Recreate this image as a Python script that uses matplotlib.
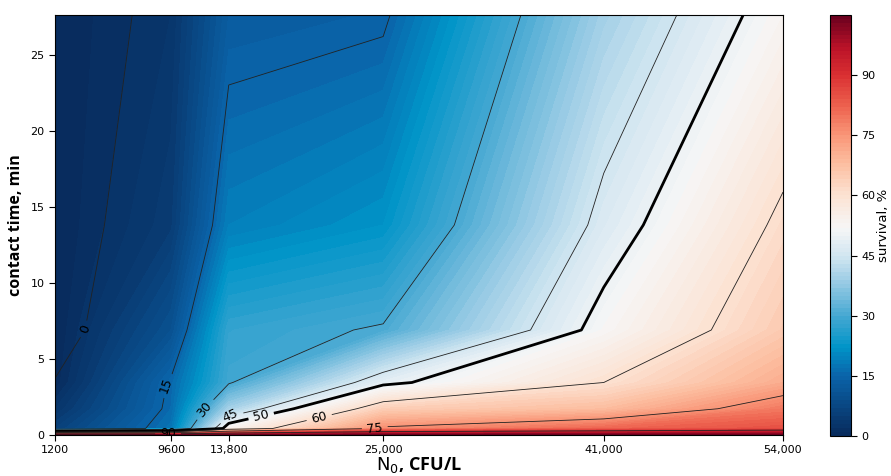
import numpy as np
import matplotlib.pyplot as plt
from matplotlib.colors import LinearSegmentedColormap

# grid: N0 columns and contact-time rows
n0 = [1200, 9600, 13800, 25000, 41000, 54000]
n0_labels = ["1200", "9600", "13,800", "25,000", "41,000", "54,000"]
contact_time = [0, 0.43, 1.725, 3.45, 6.9, 13.8, 27.6]

# survival, % (one list per contact time, one value per N0)
surv_t0 = [105, 105, 105, 105, 105, 105]
surv_t1 = [6, 17.5, 53.6, 76, 81.6, 85]
surv_t2 = [3, 16, 39.7, 64.2, 68, 79]
surv_t3 = [0.3, 15.5, 29.5, 48.5, 60, 71]
surv_t4 = [-3.5, 10, 27.9, 30.5, 52.2, 65.2]
surv_t5 = [-3.5, 4.7, 19, 22, 46.8, 61.3]
surv_t6 = [-6, 3, 13, 14.2, 39.5, 53]

cbar_ticks = [0, 15, 30, 45, 60, 75, 90]

# contour level -> where its inline label sits (data coords)
label_spots = {0: (3600, 6.9), 15: (9900, 3.15), 30: (11900, 1.8), 45: (14000, 1.05),
               50: (16200, 1.05), 60: (20400, 1.0), 75: (24400, 0.46), 90: (9400, 0.13)}

# colour stops sampled from the reference colour bar (a punchier RdBu_r)
stop_vals = [0, 15, 22, 30, 38, 45, 52, 60, 68, 75, 82, 90, 97, 105]
stop_rgb = [(8, 42, 92), (10, 100, 170), (0, 148, 200), (70, 168, 210), (150, 202, 228),
            (210, 230, 241), (246, 246, 246), (252, 226, 210), (252, 190, 160),
            (249, 150, 120), (238, 100, 80), (218, 48, 50), (186, 18, 40), (105, 0, 30)]

cmap = LinearSegmentedColormap.from_list(
    "surv", [(v / 105, tuple(c / 255 for c in rgb)) for v, rgb in zip(stop_vals, stop_rgb)])

survival = np.array([surv_t0, surv_t1, surv_t2, surv_t3, surv_t4, surv_t5, surv_t6])
X, Y = np.meshgrid(n0, contact_time)

fig = plt.figure(figsize=(8.91, 4.76), dpi=100)
ax = fig.add_axes([55 / 891, 41 / 476, 728 / 891, 420 / 476])
cax = fig.add_axes([830 / 891, 40 / 476, 21 / 891, 421 / 476])

fill = ax.contourf(X, Y, np.clip(survival, 0, None), levels=np.linspace(0, 105, 106), cmap=cmap)

# one contour set per level so each gets its own label spot; 50 % drawn thick
for lev, pos in label_spots.items():
    lw = 2 if lev == 50 else 0.6
    col = "k" if lev == 50 else "#222222"
    cs = ax.contour(X, Y, survival, levels=[lev], colors=col, linewidths=lw)
    ax.clabel(cs, manual=[pos], inline=True, fmt="%d", fontsize=9, colors="k")

ax.set_xticks(n0)
ax.set_xticklabels(n0_labels)
ax.set_yticks([0, 5, 10, 15, 20, 25])
ax.tick_params(labelsize=8, length=4)
ax.set_xlabel(r"$\mathrm{N_0}$, CFU/L", fontsize=13, fontweight="bold", family="Open Sans", labelpad=0)
ax.set_ylabel("contact time, min", fontsize=11.5, fontweight="bold", family="Open Sans", labelpad=5)

cb = fig.colorbar(fill, cax=cax, ticks=cbar_ticks)
cb.ax.tick_params(labelsize=8, length=4)
cb.set_label("survival, %", fontsize=9.5, labelpad=1)

fig.savefig("out.png", dpi=100)
